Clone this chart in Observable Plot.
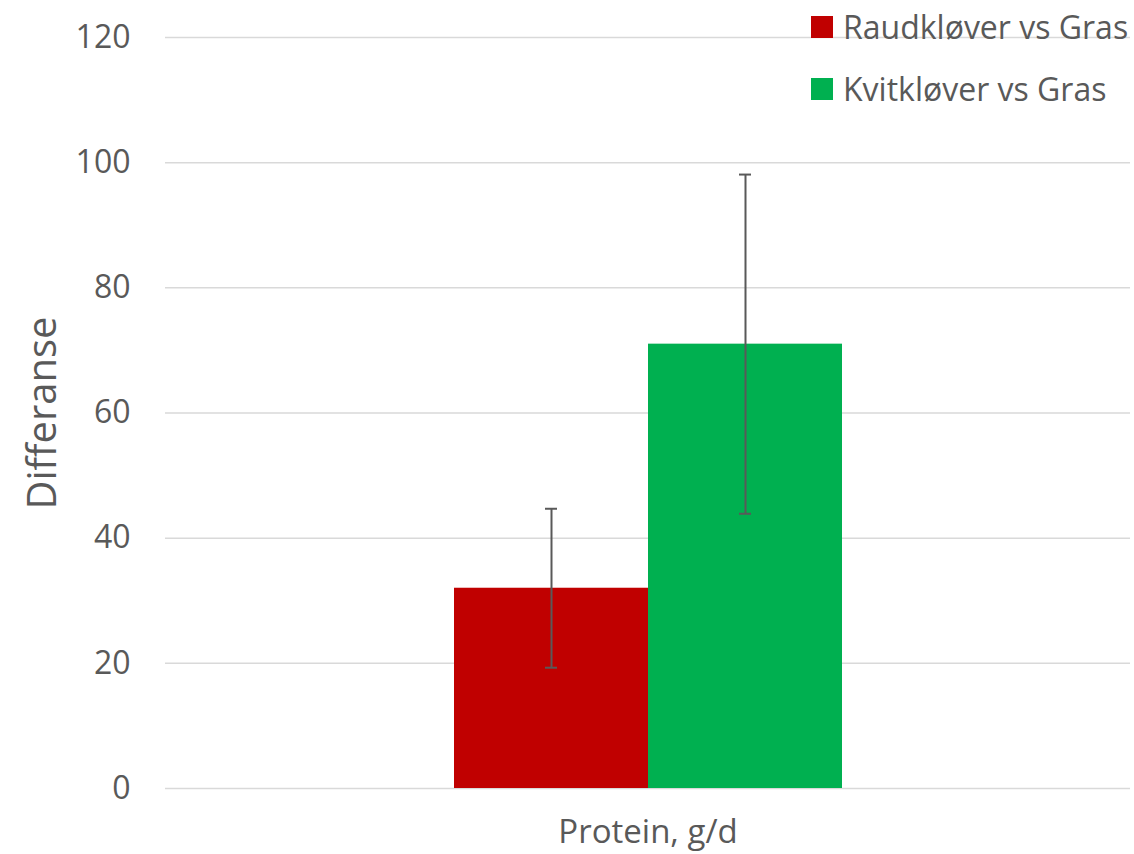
<!DOCTYPE html>
<html>
<head>
<meta charset="utf-8">
<script src="https://cdn.jsdelivr.net/npm/d3@7"></script>
<script src="https://cdn.jsdelivr.net/npm/@observablehq/plot@0.6"></script>
<style>
  html, body { margin: 0; padding: 0; background: #fff; }
  #wrap { position: relative; width: 1134px; height: 854px; font-family: "Open Sans", sans-serif; color: #595959; }
  #legend { position: absolute; left: 811px; top: 5px; }
  .row { display: flex; align-items: center; height: 44px; margin-bottom: 18px; white-space: nowrap; }
  .sw { width: 22px; height: 22px; margin-right: 10px; flex: none; }
  .lab { font-size: 32px; line-height: 1; }
</style>
</head>
<body>
<div id="wrap"><div id="chart"></div><div id="legend"></div></div>
<script>
const category = "Protein, g/d";
const series = ["Raudkløver vs Gras", "Kvitkløver vs Gras"];
const values = [32, 71];
const errLow = [19.3, 43.9];
const errHigh = [44.7, 98.1];
const colors = ["#C00000", "#00B050"];
const yTicks = [0, 20, 40, 60, 80, 100, 120];
const yTitle = "Differanse";

const data = series.map((s, i) => ({
  cat: category, series: s, value: values[i], lo: errLow[i], hi: errHigh[i]
}));

const chart = Plot.plot({
  width: 1134,
  height: 854,
  marginLeft: 165,
  marginRight: 4,
  marginTop: 37,
  marginBottom: 66,
  style: { fontFamily: "Open Sans, sans-serif", color: "#595959", background: "#fff" },
  fx: { domain: [category], padding: 0, label: null },
  x: { domain: series, paddingInner: 0, paddingOuter: 1.487, axis: null },
  y: { domain: [0, 120], ticks: yTicks, label: null },
  color: { domain: series, range: colors },
  marks: [
    Plot.gridY(yTicks, { stroke: "#d9d9d9", strokeOpacity: 1, strokeWidth: 1.5 }),
    Plot.axisY(yTicks, { tickSize: 0, tickPadding: 35, fontSize: 32, label: null, fill: "#595959" }),
    Plot.axisFx({ anchor: "bottom", tickSize: 0, tickPadding: 31, fontSize: 33, label: null, fill: "#595959" }),
    Plot.text([yTitle], { frameAnchor: "left", textAnchor: "middle", lineAnchor: "middle", dx: -122, rotate: -90, fontSize: 40, fill: "#595959", facet: "exclude" }),
    Plot.barY(data, { fx: "cat", x: "series", y: "value", fill: "series" }),
    Plot.ruleX(data, { fx: "cat", x: "series", y1: "lo", y2: "hi", stroke: "#595959", strokeWidth: 2 }),
    Plot.tickY(data, { fx: "cat", x: "series", y: "lo", stroke: "#595959", strokeWidth: 2, inset: 91 }),
    Plot.tickY(data, { fx: "cat", x: "series", y: "hi", stroke: "#595959", strokeWidth: 2, inset: 91 })
  ]
});
document.getElementById("chart").appendChild(chart);

const legend = document.getElementById("legend");
series.forEach((s, i) => {
  const row = document.createElement("div");
  row.className = "row";
  const sw = document.createElement("div");
  sw.className = "sw";
  sw.style.background = colors[i];
  const lab = document.createElement("span");
  lab.className = "lab";
  lab.textContent = s;
  row.appendChild(sw);
  row.appendChild(lab);
  legend.appendChild(row);
});
</script>
</body>
</html>
